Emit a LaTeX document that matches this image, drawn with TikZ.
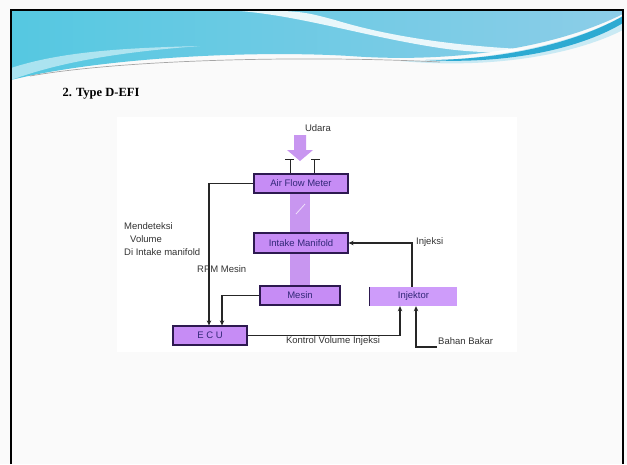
\documentclass[tikz,border=0pt]{standalone}
\usepackage{fontspec}
\setmainfont{Liberation Serif}
\newfontfamily\diagfont{Liberation Sans}
\usetikzlibrary{arrows.meta}

\definecolor{slidebg}{RGB}{250,250,250}
\definecolor{boxfill}{RGB}{198,140,245}
\definecolor{injfill}{RGB}{206,156,250}
\definecolor{colfill}{RGB}{200,150,240}
\definecolor{boxline}{RGB}{45,25,80}
\definecolor{boxtext}{RGB}{50,40,120}
\definecolor{waveL}{RGB}{85,200,225}
\definecolor{waveR}{RGB}{140,205,232}
\definecolor{waveband}{RGB}{45,170,210}

\begin{document}
\begin{tikzpicture}[x=1pt,y=-1pt,
  box/.style={draw=boxline, line width=1.2pt, fill=boxfill, minimum height=19pt,
    inner sep=0pt, font=\diagfont\fontsize{9.5}{10}\selectfont, text=boxtext},
  injbox/.style={fill=injfill, minimum height=19pt, inner sep=0pt,
    font=\diagfont\fontsize{9.5}{10}\selectfont, text=boxtext},
  lbl/.style={font=\diagfont\fontsize{9.5}{11}\selectfont, text=black!80, inner sep=0pt},
  wire/.style={line width=1.3pt, draw=black!85},
  tip/.style={-{Stealth[length=5pt,width=4.5pt]}}
]
% slide canvas
\fill[slidebg] (0,0) rectangle (627,464);
\useasboundingbox (0,0) rectangle (627,464);

% header wave
\shade[left color=waveL, right color=waveR]
  (11,10) -- (623,10) -- (623,14)
  .. controls (540,55) and (430,62) .. (350,56)
  .. controls (250,50) and (100,58) .. (11,80) -- cycle;
\fill[white, opacity=0.85]
  (222,10) .. controls (290,12) and (360,36) .. (440,48)
  .. controls (480,54) and (520,53) .. (545,50)
  .. controls (480,48) and (400,40) .. (335,20)
  .. controls (305,12) .. (265,10) -- cycle;
\fill[white, opacity=0.5]
  (11,68) .. controls (60,52) and (120,48) .. (200,46)
  .. controls (120,52) and (60,62) .. (11,80) -- cycle;
% glow under the dark band
\fill[waveband!25]
  (400,61) .. controls (500,62) and (580,40) .. (623,16)
  -- (623,30) .. controls (580,52) and (500,70) .. (400,61) -- cycle;
% dark band, tapering to the left
\fill[waveband]
  (425,60) .. controls (515,60) and (585,38) .. (623,16)
  -- (623,23) .. controls (585,46) and (515,65) .. (425,60) -- cycle;
\draw[black!35, line width=0.7pt]
  (30,76) .. controls (120,60) and (300,55) .. (440,62);

% slide frame
\draw[line width=1.5pt] (11,464) -- (11,10) -- (623,10) -- (623,464);

% title
\node[anchor=west, font=\bfseries\fontsize{12.5}{14}\selectfont] (title) at (59,94) {2. Type D-EFI};

% diagram panel
\fill[white] (117,117) rectangle (517,352);

% air path through the column
\fill[colfill] (290,193) rectangle (310,234);
\fill[colfill] (290,253) rectangle (310,287);
\draw[white, opacity=0.7, line width=0.8pt] (296,214) -- (305,204);
\fill[colfill] (294,135) -- (306,135) -- (306,150) -- (313,150) -- (300,161)
  -- (287,150) -- (294,150) -- cycle;

% blocks
\node[box, minimum width=94pt] (afm) at (301,183.5) {Air Flow Meter};
\node[box, minimum width=94pt, minimum height=20pt] (im) at (301,243) {Intake Manifold};
\node[box, minimum width=80pt] (mesin) at (300,295.5) {Mesin};
\node[injbox, minimum width=87pt] (inj) at (413.5,296.5) {Injektor};
\draw[boxline, line width=1.2pt] (inj.north west) -- (inj.south west);
\node[box, minimum width=74pt] (ecu) at (210,335.5) {E C U};

% intake brackets
\coordinate (bl) at (290,159);
\coordinate (br) at (314,159);
\draw[wire, line width=1pt] (285,159) -- (294,159) (bl) -- (bl |- afm.north);
\draw[wire, line width=1pt] (311,159) -- (320,159) (br) -- (br |- afm.north);

% labels
\node[lbl] (udara) at (318,128) {Udara};
\node[lbl, anchor=west] (l1) at (124,226) {Mendeteksi};
\node[lbl, anchor=west] (l2) at (130,239) {Volume};
\node[lbl, anchor=west] (l3) at (124,252) {Di Intake manifold};
\node[lbl, anchor=west] (rpm) at (197,269) {RPM Mesin};
\node[lbl, anchor=west] (injk) at (416,242) {Injeksi};
\node[lbl] (kontrol) at (333,341) {Kontrol Volume Injeksi};
\node[lbl, anchor=west] (bb) at (438,341) {Bahan Bakar};

% signal lines
\draw[wire, tip] (afm.west) -| ([xshift=-1pt]ecu.north);
\draw[wire, tip] (mesin.west) -| ([xshift=12pt]ecu.north);
\draw[wire, tip] ([xshift=-1.5pt]inj.north) |- (im.east);
\draw[wire, tip] (ecu.east) -| ([xshift=-13.5pt]inj.south);
\coordinate (fuel) at (437,347);
\draw[wire, tip] (fuel) -| ([xshift=2.5pt]inj.south);
\end{tikzpicture}
\end{document}
